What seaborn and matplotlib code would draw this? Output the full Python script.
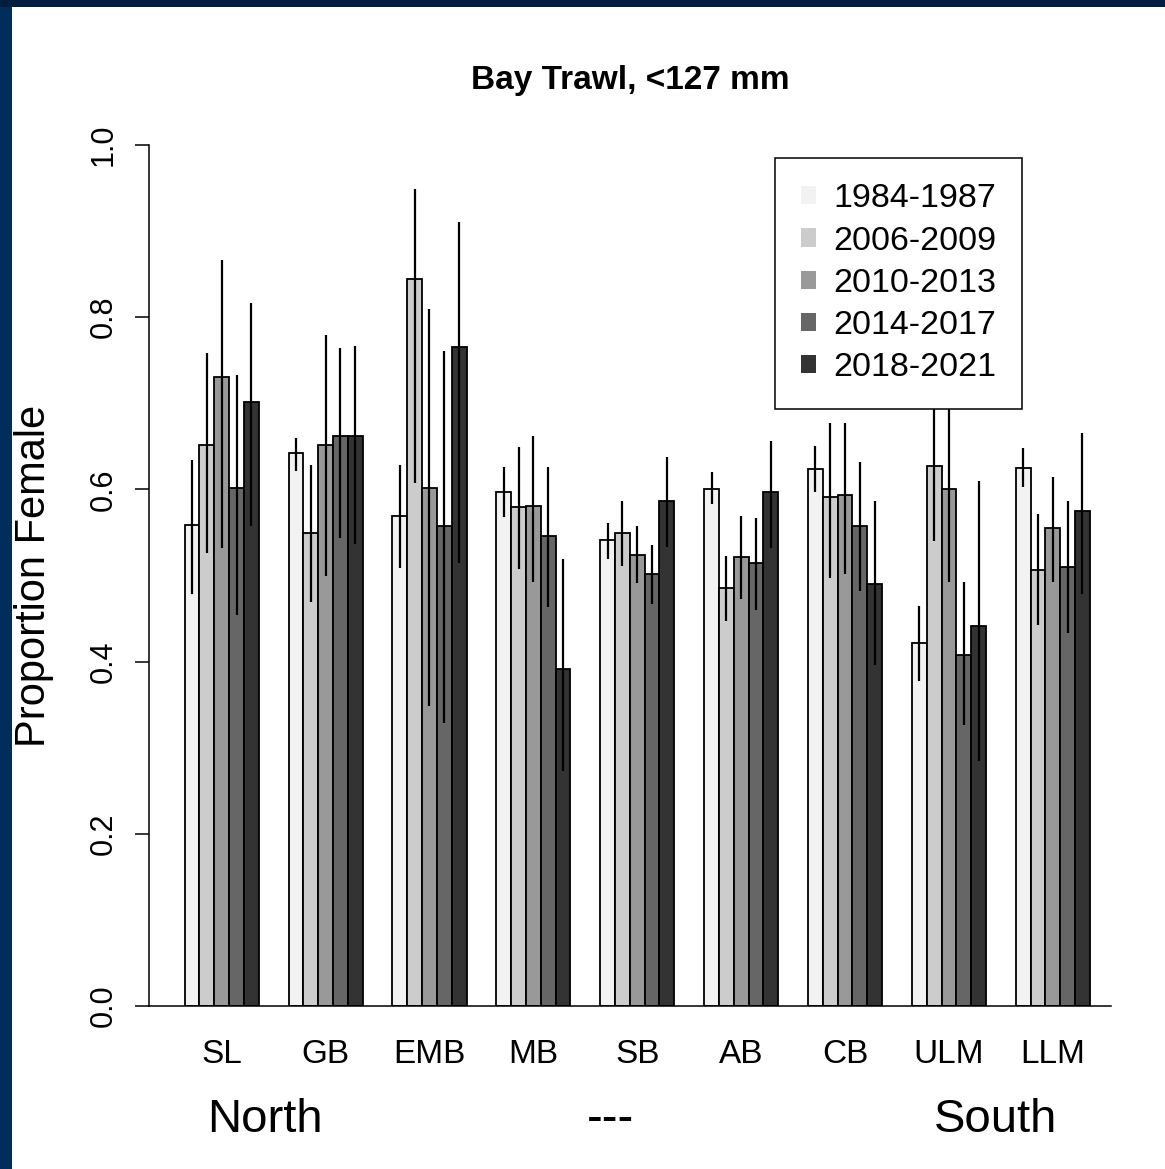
import matplotlib.pyplot as plt
import matplotlib.transforms as mtransforms
import pandas as pd
import seaborn as sns
from matplotlib.patches import Patch, Rectangle

SITES = ["SL", "GB", "EMB", "MB", "SB", "AB", "CB", "ULM", "LLM"]
PERIODS = ["1984-1987", "2006-2009", "2010-2013", "2014-2017", "2018-2021"]
GREYS = ["#f2f2f2", "#cccccc", "#999999", "#666666", "#333333"]

# proportion female per site, one list per period
PROP_1984 = [0.559, 0.642, 0.569, 0.597, 0.541, 0.601, 0.624, 0.422, 0.625]
PROP_2006 = [0.652, 0.549, 0.844, 0.579, 0.549, 0.486, 0.591, 0.627, 0.506]
PROP_2010 = [0.730, 0.652, 0.602, 0.581, 0.524, 0.522, 0.593, 0.601, 0.555]
PROP_2014 = [0.602, 0.662, 0.557, 0.546, 0.502, 0.515, 0.557, 0.408, 0.510]
PROP_2018 = [0.702, 0.662, 0.765, 0.391, 0.587, 0.597, 0.490, 0.441, 0.575]

# lower / upper ends of the error bars
LO_1984 = [0.479, 0.621, 0.509, 0.568, 0.519, 0.583, 0.597, 0.378, 0.603]
HI_1984 = [0.634, 0.660, 0.628, 0.626, 0.561, 0.620, 0.650, 0.465, 0.648]
LO_2006 = [0.526, 0.469, 0.608, 0.507, 0.511, 0.447, 0.497, 0.540, 0.443]
HI_2006 = [0.759, 0.628, 0.949, 0.649, 0.586, 0.523, 0.677, 0.709, 0.572]
LO_2010 = [0.532, 0.499, 0.348, 0.493, 0.491, 0.473, 0.502, 0.493, 0.493]
HI_2010 = [0.866, 0.779, 0.810, 0.662, 0.558, 0.569, 0.677, 0.699, 0.614]
LO_2014 = [0.454, 0.544, 0.329, 0.463, 0.467, 0.460, 0.482, 0.326, 0.433]
HI_2014 = [0.733, 0.764, 0.761, 0.626, 0.535, 0.567, 0.632, 0.493, 0.586]
LO_2018 = [0.558, 0.537, 0.514, 0.273, 0.533, 0.532, 0.396, 0.285, 0.479]
HI_2018 = [0.816, 0.767, 0.910, 0.519, 0.638, 0.656, 0.586, 0.610, 0.666]

PROPS = [PROP_1984, PROP_2006, PROP_2010, PROP_2014, PROP_2018]
LOWS = [LO_1984, LO_2006, LO_2010, LO_2014, LO_2018]
HIGHS = [HI_1984, HI_2006, HI_2010, HI_2014, HI_2018]

sns.set_style("white")
plt.rcParams["font.family"] = ["Liberation Sans", "DejaVu Sans"]
plt.rcParams["text.color"] = "black"
plt.rcParams["axes.labelcolor"] = "black"
plt.rcParams["xtick.color"] = "black"
plt.rcParams["ytick.color"] = "black"

rows = []
for period, vals in zip(PERIODS, PROPS):
    for site, v in zip(SITES, vals):
        rows.append({"site": site, "period": period, "prop": v})
df = pd.DataFrame(rows)

W, H = 1165, 1169
fig = plt.figure(figsize=(W / 100, H / 100), dpi=100)
fig.patch.set_facecolor("white")
# dark slide border on the left and top
fig.patches.append(Rectangle((0, 0), 12 / W, 1, transform=fig.transFigure,
                             facecolor="#002d5a", edgecolor="none", zorder=-1))
fig.patches.append(Rectangle((0, 1 - 7 / H), 1, 7 / H, transform=fig.transFigure,
                             facecolor="#001f3f", edgecolor="none", zorder=-1))

ax = fig.add_axes([149 / W, 1 - 1006 / H, 962 / W, 861 / H])
sns.barplot(data=df, x="site", y="prop", hue="period", order=SITES,
            hue_order=PERIODS, palette=GREYS, width=0.713, errorbar=None,
            edgecolor="black", linewidth=1.3, saturation=1, ax=ax, legend=False)

for container, lo, hi in zip(ax.containers, LOWS, HIGHS):
    xs, ls, hs = [], [], []
    for bar in container:
        xc = bar.get_x() + bar.get_width() / 2
        i = int(round(xc))
        xs.append(xc)
        ls.append(lo[i])
        hs.append(hi[i])
    ax.vlines(xs, ls, hs, color="black", linewidth=1.6, zorder=3)

ax.set_xlim(-0.70, 8.56)
ax.set_ylim(0, 1)
ax.set_yticks([0, 0.2, 0.4, 0.6, 0.8, 1.0])
ax.set_yticklabels(["0.0", "0.2", "0.4", "0.6", "0.8", "1.0"], rotation=90,
                   va="center", fontsize=22)
ax.tick_params(axis="y", left=True, length=10, width=1.1, pad=12, colors="black")
ax.tick_params(axis="x", bottom=False, length=0, pad=24, labelsize=24,
               colors="black")
ax.set_xlabel("")
ax.set_ylabel("Proportion Female", fontsize=30)
ax.yaxis.set_label_coords(-0.099, 0.5)
ax.set_title("Bay Trawl, <127 mm", fontsize=24, fontweight="bold", pad=40)

for side in ["top", "right"]:
    ax.spines[side].set_visible(False)
for side in ["left", "bottom"]:
    ax.spines[side].set_linewidth(1.1)
    ax.spines[side].set_color("black")

handles = [Patch(facecolor=c, edgecolor="none") for c in GREYS]
leg = ax.legend(handles, PERIODS, loc="upper left", bbox_to_anchor=(0.651, 0.985),
                borderaxespad=0, fontsize=24.5, handlelength=0.45,
                handleheight=0.45, handletextpad=0.5, labelspacing=0.33,
                borderpad=0.75, fancybox=False, framealpha=1, edgecolor="black")
leg.get_frame().set_linewidth(1.1)
leg.set_zorder(5)

trans = mtransforms.blended_transform_factory(ax.transData, ax.transAxes)
for label, xpos in [("North", 0.42), ("---", 3.74), ("South", 7.45)]:
    ax.text(xpos, -0.132, label, transform=trans, ha="center", va="center",
            fontsize=34)

fig.savefig("out.png", dpi=100, facecolor=fig.get_facecolor())
